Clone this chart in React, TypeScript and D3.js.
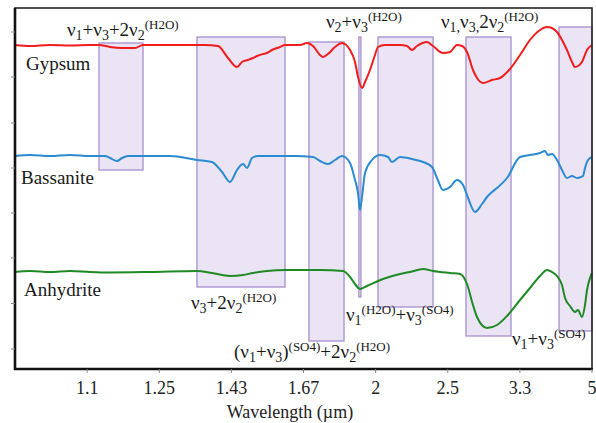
import React from "react";
import * as d3 from "d3";

// x data: wavenumber (cm^-1); y data: offset relative reflectance (arbitrary units)
const gypsum: [number, number][] = [
  [10000, 3.24], [9792, 3.23], [9515, 3.24], [9237, 3.235], [8960, 3.24], [8835, 3.24],
  [8683, 3.22], [8516, 3.21], [8336, 3.21], [8225, 3.24], [7851, 3.24], [7366, 3.24],
  [7185, 3.23], [7047, 3.11], [6922, 3.02], [6853, 3.07], [6770, 3.09], [6700, 3.11],
  [6645, 3.13], [6561, 3.15], [6506, 3.16], [6437, 3.19], [6326, 3.22], [6256, 3.24],
  [6048, 3.24], [5951, 3.26], [5868, 3.23], [5771, 3.14], [5730, 3.12], [5660, 3.15],
  [5563, 3.22], [5466, 3.26], [5355, 3.19], [5286, 3.07], [5244, 2.92], [5189, 2.81],
  [5147, 2.87], [5078, 2.99], [5009, 3.14], [4967, 3.22], [4870, 3.24], [4662, 3.24],
  [4565, 3.23], [4496, 3.19], [4426, 3.23], [4288, 3.27], [4204, 3.23], [4066, 3.16],
  [3969, 3.17], [3872, 3.24], [3802, 3.23], [3733, 3.17], [3650, 2.99], [3594, 2.91],
  [3511, 2.86], [3386, 2.89], [3275, 2.91], [3137, 3.0], [2998, 3.14], [2860, 3.29],
  [2721, 3.39], [2624, 3.42], [2555, 3.41], [2485, 3.37], [2416, 3.29], [2347, 3.19],
  [2277, 3.07], [2236, 3.02], [2194, 3.03], [2139, 3.07], [2069, 3.19], [2000, 3.24],
];

const bassanite: [number, number][] = [
  [10000, 2.13], [9792, 2.14], [9515, 2.13], [9237, 2.14], [8960, 2.13], [8752, 2.13],
  [8683, 2.11], [8586, 2.08], [8516, 2.11], [8433, 2.13], [8128, 2.13], [7851, 2.13],
  [7477, 2.09], [7269, 2.07], [7130, 1.97], [7019, 1.87], [6922, 1.99], [6839, 2.05],
  [6783, 2.01], [6714, 2.11], [6631, 2.13], [6118, 2.13], [5868, 2.12], [5771, 2.08],
  [5660, 2.05], [5563, 2.09], [5466, 2.13], [5355, 2.06], [5286, 1.89], [5244, 1.76],
  [5217, 1.59], [5189, 1.72], [5147, 1.96], [5050, 2.09], [4939, 2.14], [4828, 2.12],
  [4773, 2.07], [4662, 2.12], [4496, 2.1], [4343, 2.07], [4218, 2.02], [4149, 1.91],
  [4066, 1.79], [3969, 1.82], [3872, 1.89], [3788, 1.84], [3733, 1.74], [3622, 1.57],
  [3525, 1.65], [3456, 1.72], [3386, 1.77], [3317, 1.81], [3178, 1.91], [2998, 2.12],
  [2860, 2.14], [2721, 2.16], [2652, 2.18], [2610, 2.14], [2555, 2.15], [2485, 2.09],
  [2416, 1.99], [2347, 1.91], [2277, 1.93], [2208, 1.91], [2125, 1.93], [2097, 2.01],
  [2055, 2.09], [2000, 2.12],
];

const anhydrite: [number, number][] = [
  [10000, 0.97], [9792, 0.98], [9515, 0.97], [9237, 0.98], [8960, 0.97], [8683, 0.965],
  [8128, 0.97], [7477, 0.98], [7269, 0.96], [7019, 0.93], [6839, 0.94], [6700, 0.96],
  [6506, 0.98], [6256, 0.99], [6048, 0.99], [5771, 0.99], [5452, 0.98], [5355, 0.92],
  [5286, 0.85], [5217, 0.8], [5120, 0.83], [4898, 0.9], [4662, 0.95], [4523, 0.97],
  [4343, 1.0], [4204, 0.98], [3969, 0.96], [3830, 0.95], [3733, 0.85], [3650, 0.64],
  [3594, 0.52], [3456, 0.41], [3317, 0.44], [3178, 0.53], [2998, 0.69], [2860, 0.81],
  [2721, 0.93], [2624, 0.99], [2555, 0.97], [2485, 0.93], [2416, 0.84], [2374, 0.71],
  [2305, 0.63], [2236, 0.57], [2194, 0.59], [2139, 0.52], [2097, 0.64], [2069, 0.79],
  [2028, 0.91], [2000, 0.96],
];

// absorption band boxes: [wnStart, wnEnd, top, bottom]
const bands: [number, number, number, number][] = [
  [8835, 8225, 3.26, 1.99],
  [7477, 6256, 3.32, 0.82],
  [5924, 5438, 3.27, 0.28],
  [5232, 5204, 3.32, 0.72],
  [4967, 4204, 3.32, 0.62],
  [3747, 3123, 3.32, 0.33],
  [2457, 2000, 3.42, 0.38],
];

const xTickValues = [9000, 8000, 7000, 6000, 5000, 4000, 3000, 2000];
const xTickLabels = ["1.1", "1.25", "1.43", "1.67", "2", "2.5", "3.3", "5"];
const yTickValues = [0.2, 0.655, 1.11, 1.56, 2.01, 2.46, 2.92, 3.37];

type Seg = [string, number];
const annotations: { x: number; y: number; segs: Seg[] }[] = [
  { x: 67, y: 36, segs: [["ν", 0], ["1", -1], ["+ν", 0], ["3", -1], ["+2ν", 0], ["2", -1], ["(H2O)", 1]] },
  { x: 326, y: 28, segs: [["ν", 0], ["2", -1], ["+ν", 0], ["3", -1], ["(H2O)", 1]] },
  { x: 441, y: 28, segs: [["ν", 0], ["1,", -1], ["ν", 0], ["3,", -1], ["2ν", 0], ["2", -1], ["(H2O)", 1]] },
  { x: 191, y: 309, segs: [["ν", 0], ["3", -1], ["+2ν", 0], ["2", -1], ["(H2O)", 1]] },
  { x: 234, y: 358, segs: [["(ν", 0], ["1", -1], ["+ν", 0], ["3", -1], [")", 0], ["(SO4)", 1], ["+2ν", 0], ["2", -1], ["(H2O)", 1]] },
  { x: 346, y: 321, segs: [["ν", 0], ["1", -1], ["(H2O)", 1], ["+ν", 0], ["3", -1], ["(SO4)", 1]] },
  { x: 512, y: 345, segs: [["ν", 0], ["1", -1], ["+ν", 0], ["3", -1], ["(SO4)", 1]] },
];

const seriesNames = ["Gypsum", "Bassanite", "Anhydrite"];
const seriesColors = ["#f21c1c", "#2a8bd2", "#1f8a24"];

const W = 596, H = 423;
const L = 15, R = 592, T = 8, B = 369;
const FONT = "'Liberation Serif', 'Times New Roman', 'DejaVu Serif', serif";

function Label({ x, y, segs }: { x: number; y: number; segs: Seg[] }) {
  let cur = 0;
  const shift = (m: number) => (m === -1 ? 4 : m === 1 ? -7 : 0);
  const size = (m: number) => (m === -1 ? 14 : m === 1 ? 13 : 19);
  return (
    <text x={x} y={y} fontFamily={FONT} fill="#1a1a1a">
      {segs.map((s, i) => {
        const target = shift(s[1]);
        const dy = target - cur;
        cur = target;
        return (
          <tspan key={i} dy={dy} fontSize={size(s[1])}>
            {s[0]}
          </tspan>
        );
      })}
    </text>
  );
}

export default function App() {
  const x = d3.scaleLinear().domain([10000, 2000]).range([L, R]);
  const y = d3.scaleLinear().domain([0, 3.61]).range([B, T]);
  const line = d3
    .line<[number, number]>()
    .x((d) => x(d[0]))
    .y((d) => y(d[1]))
    .curve(d3.curveMonotoneX);
  const series = [gypsum, bassanite, anhydrite];
  return (
    <svg width={W} height={H} style={{ position: "absolute", left: 0, top: 0, background: "#fff" }}>
      <rect x={0} y={0} width={W} height={H} fill="#fff" />
      {bands.map((b, i) => (
        <rect
          key={i}
          x={x(b[0])}
          y={y(b[2])}
          width={x(b[1]) - x(b[0])}
          height={y(b[3]) - y(b[2])}
          fill="rgba(160,130,205,0.22)"
          stroke="#a68fcf"
          strokeWidth={1.3}
        />
      ))}
      {series.map((s, i) => (
        <path key={i} d={line(s) || ""} fill="none" stroke={seriesColors[i]} strokeWidth={2} strokeLinejoin="round" />
      ))}
      <rect x={L} y={T} width={R - L} height={B - T} fill="none" stroke="#222" strokeWidth={1.6} />
      <line x1={L} y1={T} x2={L} y2={B + 1} stroke="#111" strokeWidth={2.6} />
      <line x1={L - 1} y1={B} x2={R + 1} y2={B} stroke="#111" strokeWidth={2.6} />
      {yTickValues.map((v, i) => (
        <line key={i} x1={L - 4} x2={L} y1={y(v)} y2={y(v)} stroke="#888" strokeWidth={1} />
      ))}
      {xTickValues.map((v, i) => (
        <g key={i}>
          <line x1={x(v)} x2={x(v)} y1={B} y2={B + 4} stroke="#888" strokeWidth={1} />
          <text x={x(v)} y={394} textAnchor="middle" fontFamily={FONT} fontSize={18} fill="#222">
            {xTickLabels[i]}
          </text>
        </g>
      ))}
      <text x={290} y={418} textAnchor="middle" fontFamily={FONT} fontSize={18} fill="#222">
        Wavelength (µm)
      </text>
      <text x={26} y={70} fontFamily={FONT} fontSize={19} fill="#1a1a1a">{seriesNames[0]}</text>
      <text x={21} y={184} fontFamily={FONT} fontSize={19} fill="#1a1a1a">{seriesNames[1]}</text>
      <text x={24} y={296} fontFamily={FONT} fontSize={19} fill="#1a1a1a">{seriesNames[2]}</text>
      {annotations.map((a, i) => (
        <Label key={i} {...a} />
      ))}
    </svg>
  );
}
